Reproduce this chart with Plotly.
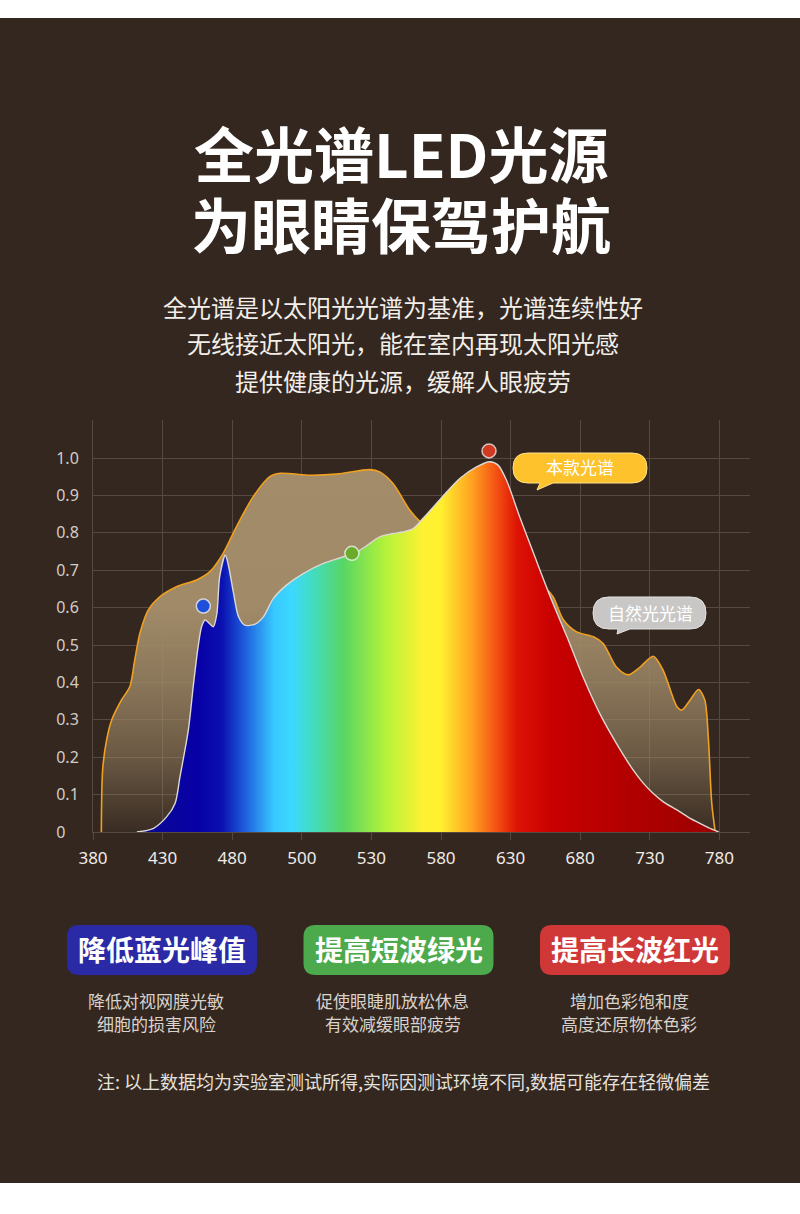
import numpy as np
import plotly.graph_objects as go

# x axis labels are not evenly spaced in nm, so positions go through the tick list
tick_nm = [380, 430, 480, 500, 530, 580, 630, 680, 730, 780]
tick_pos = list(range(len(tick_nm)))
y_tickvals = [0, 0.1, 0.2, 0.3, 0.4, 0.5, 0.6, 0.7, 0.8, 0.9, 1.0]
# labels sit flush left in the original, so "0" gets padded to the width of "0.1"
y_ticktext = ["0\u2008\u2007", "0.1", "0.2", "0.3", "0.4", "0.5", "0.6", "0.7", "0.8", "0.9", "1.0"]

# natural light spectrum (nm, relative intensity)
natural_nm = [386, 387, 390, 393.5, 400.5, 406.5, 410, 413.75, 419.75, 428, 440, 454.5,
              464, 473.5, 481.2, 486, 490.8, 493.8, 503.6, 515, 529.4, 536, 545.5, 557.5,
              565, 580, 600, 620, 635, 645, 653.5, 660.5, 668, 677.5, 689.5, 696.5, 706,
              714.5, 723, 732.5, 739.5, 749.5, 753, 759, 765, 769.5, 772, 774.5, 777]
natural_val = [0, 0.17, 0.25, 0.30, 0.353, 0.389, 0.46, 0.532, 0.594, 0.629, 0.656, 0.674,
               0.696, 0.745, 0.816, 0.896, 0.95, 0.959, 0.954, 0.957, 0.969, 0.963, 0.932, 0.861,
               0.83, 0.79, 0.76, 0.73, 0.71, 0.70, 0.66, 0.629, 0.567, 0.535, 0.522, 0.504, 0.441,
               0.42, 0.441, 0.47, 0.433, 0.335, 0.326, 0.353, 0.381, 0.353, 0.255, 0.077, 0]

# this LED spectrum
led_nm = [411.5, 423.5, 433, 439, 442.5, 448.5, 452, 455.5, 458, 460.5, 464, 466.5, 469, 471,
          475, 477, 480.4, 481.8, 483.6, 486.6, 489, 491.8, 495.6, 500.6, 509.3, 518, 525.2,
          536, 545.5, 552.5, 560, 567.5, 579.5, 593.5, 605.5, 615, 621, 627, 636.5, 646.5,
          658.5, 670.5, 682, 694, 706, 718, 725, 732.5, 740, 749.5, 757.5, 766, 772.5, 779.5]
led_val = [0, 0.01, 0.041, 0.077, 0.148, 0.273, 0.389, 0.495, 0.549, 0.567, 0.556, 0.549,
           0.584, 0.682, 0.74, 0.718, 0.638, 0.576, 0.553, 0.556, 0.576, 0.624, 0.66, 0.691,
           0.718, 0.736, 0.754, 0.789, 0.798, 0.802, 0.811, 0.84, 0.89, 0.945, 0.976, 0.99,
           0.981, 0.941, 0.843, 0.745, 0.629, 0.522, 0.415, 0.317, 0.237, 0.166, 0.132, 0.103,
           0.080, 0.059, 0.040, 0.023, 0.011, 0]

# rainbow under the LED curve
grad_nm = [410, 455, 472.5, 484, 492, 497, 503, 518, 540, 567.5, 580, 602.5, 621, 635, 660, 710, 780]
grad_colors = ["#0a0a90", "#0700a6", "#0b10b0", "#1f62e0", "#38c8ff", "#3cd8ff", "#40dccc",
               "#58d664", "#b4f23a", "#fff232", "#fff030", "#ffa020", "#f24c12", "#dc1204",
               "#c80000", "#b40000", "#9a0000"]

# highlight dots
dot_nm = [459.25, 521.6, 614.5]
dot_val = [0.604, 0.745, 1.019]
dot_colors = ["#1f4fd8", "#6aab2c", "#cf3a22"]

bubble_labels = ["本款光谱", "自然光光谱"]

title_lines = ["全光谱LED光源", "为眼睛保驾护航"]
intro_lines = ["全光谱是以太阳光光谱为基准，光谱连续性好",
               "无线接近太阳光，能在室内再现太阳光感",
               "提供健康的光源，缓解人眼疲劳"]
button_labels = ["降低蓝光峰值", "提高短波绿光", "提高长波红光"]
button_colors = ["#2a2aa6", "#4caa4c", "#d03838"]
button_notes = [["降低对视网膜光敏", "细胞的损害风险"],
                ["促使眼睫肌放松休息", "有效减缓眼部疲劳"],
                ["增加色彩饱和度", "高度还原物体色彩"]]
footnote = "注: 以上数据均为实验室测试所得,实际因测试环境不同,数据可能存在轻微偏差"

W, H = 800, 1214
BG = "#34271f"
GRID = "#56493f"
FONT = "Noto Sans CJK SC"


def to_axis(nm):
    return np.interp(nm, tick_nm, tick_pos)


def px(x):
    return x / W


def py(y):
    return 1 - y / H


def rounded_path(x0, x1, y0, y1, r, tail=None):
    # pixel coords -> paper path, quadratic corners; tail = (left, right, tipx, tipy) on bottom edge
    pts = lambda x, y: f"{px(x):.5f},{py(y):.5f}"
    d = f"M{pts(x0 + r, y0)} L{pts(x1 - r, y0)} Q{pts(x1, y0)} {pts(x1, y0 + r)} "
    d += f"L{pts(x1, y1 - r)} Q{pts(x1, y1)} {pts(x1 - r, y1)} "
    if tail:
        tl, tr, tx, ty = tail
        d += f"L{pts(tr, y1)} L{pts(tx, ty)} L{pts(tl, y1)} "
    d += f"L{pts(x0 + r, y1)} Q{pts(x0, y1)} {pts(x0, y1 - r)} "
    d += f"L{pts(x0, y0 + r)} Q{pts(x0, y0)} {pts(x0 + r, y0)} Z"
    return d


def label(x, y, text, size, color, weight=400, **kw):
    return dict(xref="paper", yref="paper", x=px(x), y=py(y), text=text, showarrow=False,
                xanchor="center", yanchor="middle",
                font=dict(family=FONT, size=size, color=color, weight=weight), **kw)


fig = go.Figure()

# natural spectrum, brown fill fading to the bottom
fig.add_trace(go.Scatter(
    x=to_axis(natural_nm), y=natural_val, mode="lines",
    line=dict(color="#f0a020", width=1.6, shape="spline", smoothing=0.8),
    fill="tozeroy",
    fillgradient=dict(type="vertical", start=0, stop=1.0,
                      colorscale=[[0, "rgba(160,138,104,0.05)"], [0.2, "rgba(160,138,104,0.5)"],
                                  [0.4, "rgba(160,138,104,0.8)"], [0.6, "rgba(160,138,104,1)"],
                                  [1, "rgba(163,140,106,1)"]]),
    hoverinfo="skip", showlegend=False,
))

g_start, g_stop = float(to_axis(grad_nm[0])), float(to_axis(grad_nm[-1]))
g_pos = (to_axis(grad_nm) - g_start) / (g_stop - g_start)
fig.add_trace(go.Scatter(
    x=to_axis(led_nm), y=led_val, mode="lines",
    line=dict(color="#dcd8d4", width=1.4, shape="spline", smoothing=0.8),
    fill="tozeroy",
    fillgradient=dict(type="horizontal", start=g_start, stop=g_stop,
                      colorscale=[[float(p), c] for p, c in zip(g_pos, grad_colors)]),
    hoverinfo="skip", showlegend=False,
))

fig.add_trace(go.Scatter(
    x=to_axis(dot_nm), y=dot_val, mode="markers",
    marker=dict(size=14, color=dot_colors, line=dict(color="rgba(255,255,255,0.7)", width=1.5)),
    cliponaxis=False, hoverinfo="skip", showlegend=False,
))

shapes = [
    dict(type="rect", xref="paper", yref="paper", x0=0, x1=1, y0=py(18), y1=1,
         fillcolor="#ffffff", line_width=0),
    dict(type="rect", xref="paper", yref="paper", x0=0, x1=1, y0=0, y1=py(1183),
         fillcolor="#ffffff", line_width=0),
    dict(type="path", xref="paper", yref="paper",
         path=rounded_path(513, 647, 453, 483, 15, tail=(540, 553, 537, 490)),
         fillcolor="#fec22c", line=dict(color="#ffe08a", width=1)),
    dict(type="path", xref="paper", yref="paper",
         path=rounded_path(593, 706, 597, 629, 16, tail=(618, 630, 617, 634)),
         fillcolor="#c9c7c5", line=dict(color="#e2e2e2", width=1)),
]

annotations = []
for i, txt in enumerate(title_lines):
    annotations.append(label(401, 151 + 71 * i, txt, 60, "#ffffff", 700, height=68))
for i, txt in enumerate(intro_lines):
    annotations.append(label(403, 306 + 37 * i, txt, 24, "#f2eee9"))

annotations.append(label(580, 467, bubble_labels[0], 17, "#ffffff"))
annotations.append(label(650, 612, bubble_labels[1], 17, "#ffffff"))

for i, (lab, col, notes) in enumerate(zip(button_labels, button_colors, button_notes)):
    cx = 162 + 236.5 * i
    shapes.append(dict(type="path", xref="paper", yref="paper",
                       path=rounded_path(cx - 95, cx + 95, 925, 975, 12),
                       fillcolor=col, line_width=0))
    annotations.append(label(cx, 949, lab, 28, "#ffffff", 700))
    for j, n in enumerate(notes):
        annotations.append(label(cx - 6, 1000 + 23 * j, n, 17, "#d8d2cc"))

annotations.append(label(403, 1081, footnote, 18, "#e6e1dc"))

x_top = (750 - 93) / 69.6
fig.update_layout(
    width=W, height=H, margin=dict(l=0, r=0, t=0, b=0, autoexpand=False),
    paper_bgcolor=BG, plot_bgcolor=BG,
    shapes=shapes, annotations=annotations,
    xaxis=dict(domain=[px(93), px(750)], range=[0, x_top], automargin=False,
               tickvals=tick_pos, ticktext=[str(t) for t in tick_nm],
               showgrid=True, gridcolor=GRID, gridwidth=1, zeroline=False,
               showline=True, linecolor=GRID, linewidth=1,
               ticks="outside", ticklen=7, tickcolor=GRID, ticklabelstandoff=4,
               tickfont=dict(family="Noto Sans", size=17, color="#f0ece8"), fixedrange=True),
    yaxis=dict(domain=[py(832), py(420)], range=[0, (832 - 420) / 374], automargin=False,
               tickvals=y_tickvals, ticktext=y_ticktext,
               showgrid=True, gridcolor=GRID, gridwidth=1, zeroline=False,
               showline=True, linecolor=GRID, linewidth=1,
               ticks="", ticklabelstandoff=10,
               tickfont=dict(family="Noto Sans", size=16, color="#d4ccc4"), fixedrange=True),
)

fig.write_html("out.html", config={"displayModeBar": False},
               post_script="document.body.style.margin='0';")
